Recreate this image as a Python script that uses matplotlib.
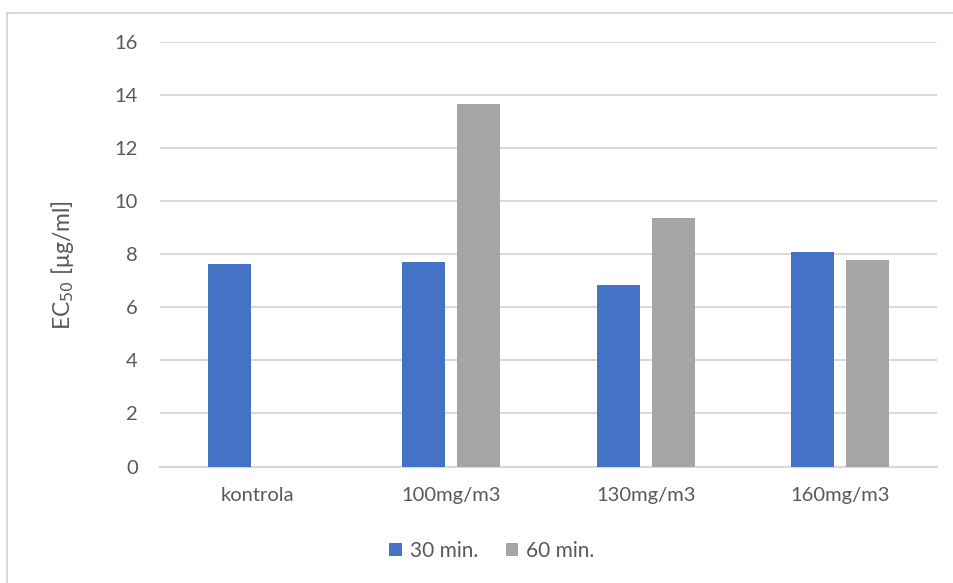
import matplotlib
matplotlib.use("Agg")
import matplotlib.pyplot as plt
import numpy as np
from matplotlib.patches import Rectangle

categories = ["kontrola", "100mg/m3", "130mg/m3", "160mg/m3"]
series_names = ["30 min.", "60 min."]
values_30 = [7.63, 7.72, 6.85, 8.10]
values_60 = [np.nan, 13.66, 9.36, 7.77]
yticks = [0, 2, 4, 6, 8, 10, 12, 14, 16]

blue = "#4472C4"
gray = "#A5A5A5"
text_col = "#595959"
grid_col = "#D9D9D9"

plt.rcParams["font.family"] = ["Lato", "DejaVu Sans"]

fig = plt.figure(figsize=(9.54, 5.83), dpi=100)
fig.patch.set_facecolor("white")

# chart frame (only top and left edges fall inside the canvas)
fig.add_artist(Rectangle((7 / 954, -0.05), 1.1, 1 - 13 / 583 + 0.05,
                         transform=fig.transFigure, fill=False,
                         edgecolor="#D9D9D9", linewidth=1.5))

ax = fig.add_axes([160 / 954, 1 - 466.5 / 583, 777 / 954, (466.5 - 42) / 583])

x = np.arange(len(categories))
offset = 0.1416
width = 0.221
ax.bar(x - offset, values_30, width, color=blue, label=series_names[0], zorder=3)
ax.bar(x + offset, values_60, width, color=gray, label=series_names[1], zorder=3)

ax.set_xlim(-0.5, 3.5)
ax.set_ylim(0, 16)
ax.set_yticks(yticks)
ax.set_xticks(x)
ax.set_xticklabels(categories)
ax.yaxis.grid(True, color=grid_col, linewidth=1.5, zorder=0)
ax.set_axisbelow(True)
for s in ["top", "right", "left"]:
    ax.spines[s].set_visible(False)
ax.spines["bottom"].set_color(grid_col)
ax.spines["bottom"].set_linewidth(1.5)
ax.tick_params(axis="both", length=0, colors=text_col, labelsize=14.5)
ax.tick_params(axis="x", pad=15)
ax.tick_params(axis="y", pad=16)

ax.set_ylabel("EC$_{50}$ [μg/ml]", color=text_col, fontsize=16.5)
ax.yaxis.set_label_coords(-0.108, 0.475)

leg = fig.legend(loc="center", bbox_to_anchor=(492 / 954, 1 - 551 / 583),
                 ncol=2, frameon=False, fontsize=15, handlelength=0.6,
                 handleheight=0.6, handletextpad=0.4, columnspacing=1.3)
for t in leg.get_texts():
    t.set_color(text_col)

fig.savefig("out.png", dpi=100, facecolor="white")
